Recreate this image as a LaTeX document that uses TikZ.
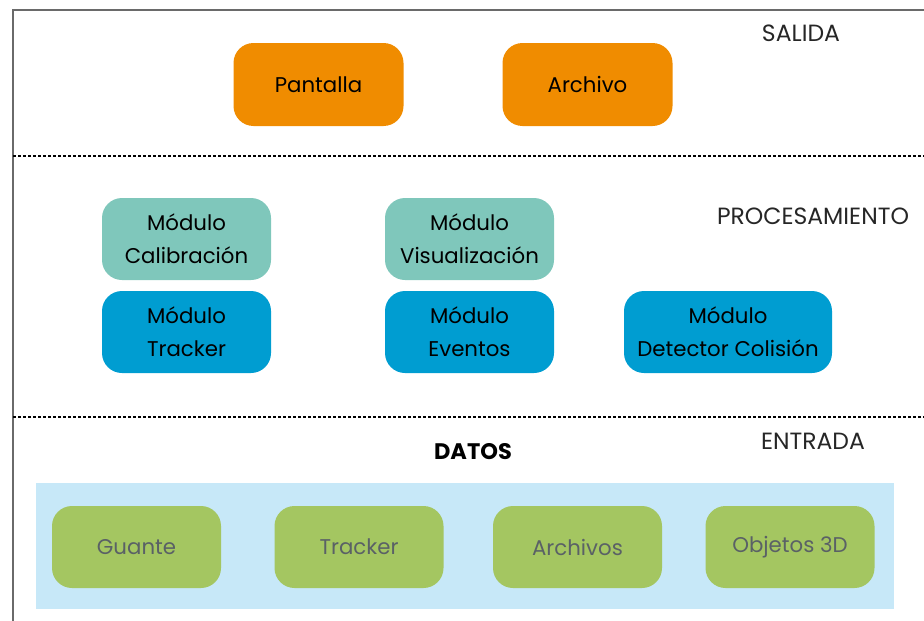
\documentclass[tikz,border=0pt]{standalone}
\usepackage{fontspec}
\setmainfont{Poppins}
\definecolor{orng}{HTML}{F08C00}
\definecolor{teal2}{HTML}{7FC7BB}
\definecolor{blue2}{HTML}{009DD1}
\definecolor{green2}{HTML}{A4C661}
\definecolor{lblue}{HTML}{C7E8F8}
\definecolor{gtext}{HTML}{5A6166}
\definecolor{frame}{HTML}{6A6A6A}
\begin{document}
\begin{tikzpicture}[x=1pt,y=-1pt,
  box/.style={rounded corners=20pt, align=center, inner sep=0pt, font=\fontsize{21.3}{33}\selectfont},
  orbox/.style={box, fill=orng, minimum width=170pt, minimum height=83pt},
  tlbox/.style={box, fill=teal2, minimum width=169pt, minimum height=82pt},
  blbox/.style={box, fill=blue2, minimum width=169pt, minimum height=82pt},
  grbox/.style={box, fill=green2, text=gtext, minimum width=169pt, minimum height=82pt},
  lvl/.style={font=\fontsize{23.5}{26}\selectfont, text=black!85},
  sep/.style={line width=1.6pt, dash pattern=on 3pt off 2pt}
]
\useasboundingbox (0,0) rectangle (924,621);
% frame
\coordinate (ftl) at (13,10);
\coordinate (ftr) at (924,10);
\coordinate (fbl) at (13,621);
\draw[frame, line width=2pt] (fbl) -- (ftl) -- (ftr);
% separators
\coordinate (s1a) at (13,156); \coordinate (s1b) at (924,156);
\coordinate (s2a) at (13,417); \coordinate (s2b) at (924,417);
\draw[sep] (s1a) -- (s1b);
\draw[sep] (s2a) -- (s2b);
% data background
\node[fill=lblue, minimum width=858pt, minimum height=126pt, inner sep=0pt] (bg) at (465,546) {};
% output
\node[orbox] (pant) at (318.5,84.5) {Pantalla};
\node[orbox] (arch) at (587.5,84.5) {Archivo};
% processing
\node[tlbox] (cal) at (186.5,239) {Módulo\\Calibración};
\node[tlbox] (vis) at (469.5,239) {Módulo\\Visualización};
\node[blbox] (trk) at (186.5,332) {Módulo\\Tracker};
\node[blbox] (evt) at (469.5,332) {Módulo\\Eventos};
\node[blbox, minimum width=208pt] (det) at (728,332) {Módulo\\Detector Colisión};
% data
\node[grbox] (guan) at (136.5,547) {Guante};
\node[grbox] (trd) at (359,547) {Tracker};
\node[grbox] (arcs) at (577.5,547) {Archivos};
\node[grbox] (obj) at (790,547) {Objetos 3D};
% labels
\node[lvl] (lsal) at (801,33) {SALIDA};
\node[lvl] (lpro) at (813,216) {PROCESAMIENTO};
\node[lvl] (lent) at (813,441) {ENTRADA};
\node[font=\fontsize{22.5}{25}\selectfont\bfseries] (dat) at (473,452) {DATOS};
\end{tikzpicture}
\end{document}
